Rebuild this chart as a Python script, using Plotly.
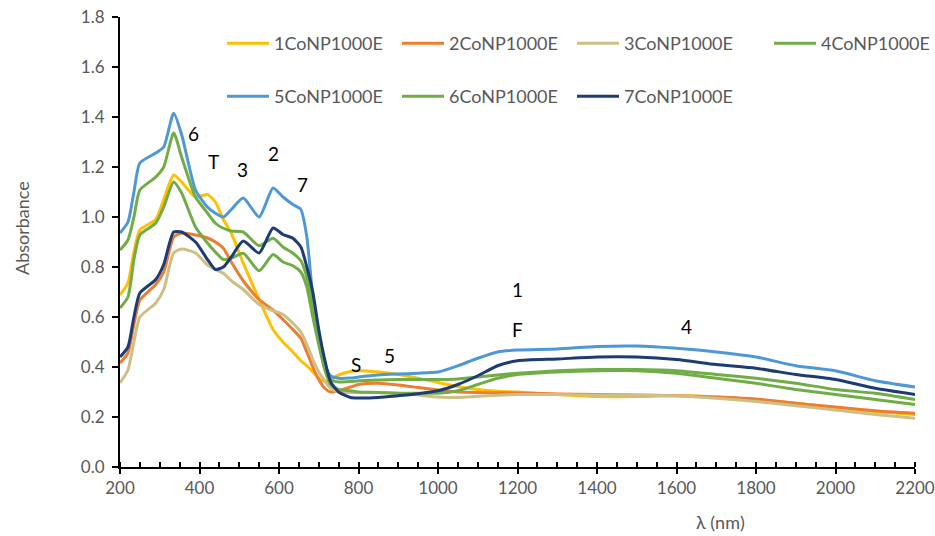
import plotly.graph_objects as go

wavelength = [200, 220, 235, 250, 290, 310, 335, 355, 390, 420, 440, 460, 480, 510, 550, 585, 610, 635, 655,
              670, 685, 700, 715, 730, 750, 780, 800, 850, 900, 950, 1000, 1050, 1100, 1150, 1200, 1300, 1400,
              1500, 1600, 1700, 1800, 1900, 2000, 2100, 2200]

s1 = [0.688, 0.736, 0.86, 0.948, 0.99, 1.07, 1.168, 1.14, 1.08, 1.09, 1.06, 0.99, 0.935, 0.816, 0.67, 0.55, 0.5,
      0.46, 0.425, 0.405, 0.38, 0.355, 0.342, 0.35, 0.368, 0.382, 0.385, 0.38, 0.37, 0.355, 0.338, 0.322, 0.31,
      0.303, 0.3, 0.29, 0.282, 0.282, 0.285, 0.28, 0.268, 0.255, 0.238, 0.222, 0.21]
s2 = [0.416, 0.456, 0.57, 0.668, 0.73, 0.78, 0.92, 0.936, 0.928, 0.916, 0.9, 0.875, 0.82, 0.745, 0.67, 0.628,
      0.59, 0.55, 0.515, 0.46, 0.4, 0.35, 0.315, 0.3, 0.305, 0.32, 0.33, 0.335, 0.328, 0.318, 0.308, 0.3, 0.298,
      0.297, 0.296, 0.292, 0.29, 0.288, 0.285, 0.28, 0.272, 0.255, 0.24, 0.225, 0.215]
s3 = [0.336, 0.388, 0.5, 0.6, 0.656, 0.71, 0.856, 0.872, 0.856, 0.808, 0.79, 0.775, 0.745, 0.71, 0.65, 0.625,
      0.61, 0.575, 0.54, 0.49, 0.43, 0.38, 0.345, 0.315, 0.3, 0.298, 0.298, 0.298, 0.295, 0.288, 0.28, 0.278,
      0.283, 0.287, 0.29, 0.29, 0.287, 0.287, 0.285, 0.275, 0.262, 0.245, 0.228, 0.21, 0.195]
s4 = [0.636, 0.68, 0.83, 0.928, 0.976, 1.04, 1.14, 1.096, 0.96, 0.896, 0.86, 0.83, 0.835, 0.855, 0.785, 0.85,
      0.82, 0.805, 0.78, 0.72, 0.6, 0.49, 0.39, 0.33, 0.31, 0.305, 0.3, 0.298, 0.295, 0.295, 0.295, 0.305, 0.33,
      0.355, 0.37, 0.38, 0.385, 0.385, 0.375, 0.355, 0.335, 0.31, 0.29, 0.27, 0.25]
s5 = [0.936, 0.98, 1.1, 1.216, 1.256, 1.28, 1.415, 1.33, 1.108, 1.04, 1.015, 1.0, 1.03, 1.076, 1.0, 1.116, 1.08,
      1.05, 1.03, 0.92, 0.68, 0.52, 0.41, 0.365, 0.355, 0.356, 0.36, 0.368, 0.372, 0.375, 0.38, 0.405, 0.435,
      0.46, 0.468, 0.472, 0.482, 0.484, 0.475, 0.46, 0.44, 0.405, 0.385, 0.345, 0.32]
s6 = [0.868, 0.908, 1.0, 1.108, 1.16, 1.2, 1.336, 1.24, 1.08, 1.016, 0.975, 0.955, 0.944, 0.94, 0.885, 0.915,
      0.88, 0.855, 0.825, 0.76, 0.64, 0.52, 0.41, 0.35, 0.34, 0.342, 0.345, 0.348, 0.35, 0.35, 0.35, 0.352, 0.36,
      0.368, 0.375, 0.385, 0.39, 0.39, 0.385, 0.37, 0.355, 0.335, 0.31, 0.295, 0.27]
s7 = [0.44, 0.48, 0.6, 0.696, 0.75, 0.81, 0.94, 0.94, 0.9, 0.83, 0.79, 0.8, 0.84, 0.904, 0.856, 0.956, 0.93,
      0.915, 0.88, 0.8, 0.7, 0.55, 0.43, 0.34, 0.3, 0.278, 0.276, 0.278, 0.285, 0.293, 0.305, 0.33, 0.365, 0.405,
      0.425, 0.432, 0.44, 0.44, 0.43, 0.41, 0.395, 0.37, 0.35, 0.315, 0.29]

names = ["1CoNP1000E", "2CoNP1000E", "3CoNP1000E", "4CoNP1000E", "5CoNP1000E", "6CoNP1000E", "7CoNP1000E"]
series = [s1, s2, s3, s4, s5, s6, s7]
colors = ["#FFC000", "#ED7D31", "#CDBF86", "#70AD47", "#4E98D8", "#70AD47", "#1F3B73"]
legend_ids = ["legend", "legend", "legend", "legend2", "legend3", "legend3", "legend3"]

label_text = ["6", "T", "3", "2", "7", "S", "5", "1", "F", "4"]
label_x = [384, 434, 507, 585, 660, 794, 879, 1201, 1199, 1626]
label_y = [1.336, 1.224, 1.192, 1.256, 1.132, 0.412, 0.448, 0.712, 0.552, 0.564]

FONT = "Lato, Open Sans, sans-serif"
GRAY = "#595959"

# plot area in pixels: x 120..915, y 17..467
def px_x(px):
    return (px - 120) / 795

def px_y(py):
    return (467 - py) / 450

fig = go.Figure()
for name, ys, col, lg in zip(names, series, colors, legend_ids):
    fig.add_trace(go.Scatter(x=wavelength, y=ys, name=name, mode="lines",
                             line=dict(color=col, width=3, shape="spline", smoothing=0.6),
                             legend=lg))

for t, x, y in zip(label_text, label_x, label_y):
    fig.add_annotation(x=x, y=y, text=t, showarrow=False, font=dict(family=FONT, size=19, color="#000000"))

fig.add_annotation(xref="paper", yref="paper", x=px_x(22), y=px_y(228), text="Absorbance", textangle=-90,
                   xanchor="center", yanchor="middle",
                   showarrow=False, font=dict(family=FONT, size=18, color=GRAY))
fig.add_annotation(xref="paper", yref="paper", x=px_x(720), y=px_y(522), text="λ (nm)",
                   xanchor="center", yanchor="middle",
                   showarrow=False, font=dict(family=FONT, size=18, color=GRAY))

legend_common = dict(orientation="h", xanchor="left", yanchor="top",
                     font=dict(family=FONT, size=18, color=GRAY), entrywidth=118, entrywidthmode="pixels",
                     bgcolor="rgba(0,0,0,0)", itemwidth=42)

fig.update_layout(
    width=935, height=536,
    margin=dict(l=120, r=20, t=17, b=69, autoexpand=False),
    plot_bgcolor="white", paper_bgcolor="white",
    showlegend=True,
    legend=dict(x=px_x(222), y=px_y(25), **legend_common),
    legend2=dict(x=px_x(769), y=px_y(25), **legend_common),
    legend3=dict(x=px_x(222), y=px_y(78), **legend_common),
    xaxis=dict(range=[200, 2200], tick0=200, dtick=200, showgrid=False, zeroline=False,
               showline=True, linecolor="black", linewidth=2,
               ticks="outside", ticklen=5, tickwidth=2, tickcolor="black",
               minor=dict(dtick=50, ticks="inside", ticklen=5, tickwidth=2, tickcolor="black", showgrid=False),
               tickfont=dict(family=FONT, size=17, color=GRAY)),
    yaxis=dict(range=[0, 1.8], tick0=0, dtick=0.2, tickformat=".1f", showgrid=False, zeroline=False,
               showline=True, linecolor="black", linewidth=2,
               ticks="outside", ticklen=6, tickwidth=2, tickcolor="black", ticklabelstandoff=4,
               tickfont=dict(family=FONT, size=17, color=GRAY)),
)

fig.write_html("out.html")
